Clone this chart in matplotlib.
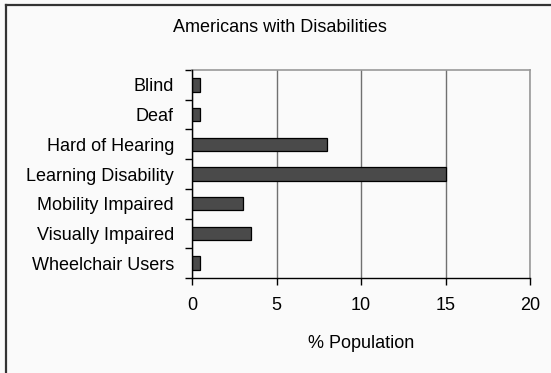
import matplotlib
matplotlib.use("Agg")
import matplotlib.pyplot as plt
import numpy as np
from matplotlib.lines import Line2D

categories = ["Blind", "Deaf", "Hard of Hearing", "Learning Disability",
              "Mobility Impaired", "Visually Impaired", "Wheelchair Users"]
values = [0.5, 0.5, 8, 15, 3, 3.5, 0.5]
x_ticks = [0, 5, 10, 15, 20]

plt.rcParams["font.family"] = ["Liberation Sans", "DejaVu Sans"]
plt.rcParams["font.size"] = 13

fig = plt.figure(figsize=(5.51, 3.73), dpi=100)
fig.patch.set_facecolor("#fafafa")
ax = fig.add_axes([0.3485, 0.2547, 0.6135, 0.5576])
ax.set_facecolor("#fafafa")

# outer frame (only left and top visible in the original)
fig.add_artist(Line2D([6 / 551, 6 / 551], [0, 1 - 5 / 373], transform=fig.transFigure,
                      color="#333333", lw=1.6))
fig.add_artist(Line2D([6 / 551, 1], [1 - 5 / 373, 1 - 5 / 373], transform=fig.transFigure,
                      color="#333333", lw=1.6))

y = np.arange(len(categories))
ax.barh(y, values, height=0.45, color="#4a4a4a", edgecolor="black", linewidth=0.9, zorder=3)

ax.set_xlim(0, 20)
ax.set_ylim(len(categories) - 0.5, -0.5)
ax.set_xticks(x_ticks)
ax.set_yticks(y)
ax.set_yticklabels(categories)
ax.tick_params(axis="y", length=0, pad=13)
ax.set_yticks(np.arange(-0.5, len(categories)), minor=True)
ax.tick_params(axis="y", which="minor", length=5, width=1, color="black")
ax.tick_params(axis="x", length=5, width=1, color="black", pad=9)

ax.xaxis.grid(True, color="#707070", linewidth=1, zorder=0)
for s in ["top", "right"]:
    ax.spines[s].set_color("#999999")
    ax.spines[s].set_linewidth(1.2)
for s in ["left", "bottom"]:
    ax.spines[s].set_color("black")
    ax.spines[s].set_linewidth(1)
    ax.spines[s].set_zorder(4)

ax.set_xlabel("% Population", labelpad=15)
fig.text(280 / 551, 1 - 28 / 373, "Americans with Disabilities", ha="center", va="center")

fig.savefig("out.png", dpi=100, facecolor=fig.get_facecolor())
